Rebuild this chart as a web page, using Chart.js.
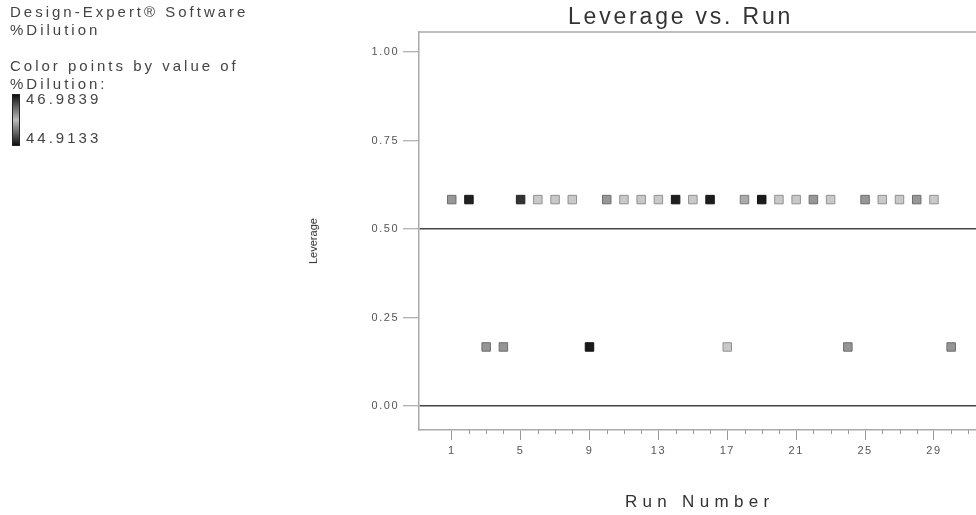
<!DOCTYPE html>
<html lang="en">
<head>
    <meta charset="UTF-8">
    <title>Leverage vs. Run</title>
    <script src="https://cdn.jsdelivr.net/npm/chart.js"></script>
    <style>
        body { margin: 0; background: #fff; font-family: "Liberation Sans", Arial, sans-serif; color: #444; }
        #wrap { position: relative; width: 976px; height: 515px; overflow: hidden; }
        canvas { position: absolute; left: 0; top: 0; }
        .txt { position: absolute; white-space: nowrap; }
        .side { font-size: 15px; letter-spacing: 3px; line-height: 18px; }
        #bar { position: absolute; left: 12px; top: 94px; width: 6px; height: 50px;
               border: 1px solid #222; background: linear-gradient(#111, #bbb 50%, #111); }
    </style>
</head>
<body>
<div id="wrap">
    <canvas id="levChart" width="984" height="515"></canvas>

    <!-- design info on the left -->
    <div class="txt side" style="left:10px; top:3px;">Design-Expert® Software<br>%Dilution</div>
    <div class="txt side" style="left:10px; top:57px;">Color points by value of<br>%Dilution:</div>
    <div id="bar"></div>
    <div class="txt side" style="left:26px; top:90px;">46.9839</div>
    <div class="txt side" style="left:26px; top:129px;">44.9133</div>

    <!-- titles -->
    <div class="txt" style="left:568px; top:3px; font-size:23px; letter-spacing:2.8px; color:#333;">Leverage vs. Run</div>
    <div class="txt" style="left:625px; top:492px; font-size:17px; letter-spacing:5.3px; color:#333;">Run Number</div>
    <div class="txt" style="left:290px; top:235px; font-size:11px; font-family:'Liberation Sans Narrow', Arial, sans-serif; color:#222; transform:rotate(-90deg); transform-origin:center;">Leverage</div>
</div>

<script>
    const runs = [1, 2, 3, 4, 5, 6, 7, 8, 9, 10, 11, 12, 13, 14, 15,
                  16, 17, 18, 19, 20, 21, 22, 23, 24, 25, 26, 27, 28, 29, 30];
    const leverage = [0.5833, 0.5833, 0.1667, 0.1667, 0.5833, 0.5833, 0.5833, 0.5833, 0.1667, 0.5833,
                      0.5833, 0.5833, 0.5833, 0.5833, 0.5833, 0.5833, 0.1667, 0.5833, 0.5833, 0.5833,
                      0.5833, 0.5833, 0.5833, 0.1667, 0.5833, 0.5833, 0.5833, 0.5833, 0.5833, 0.1667];
    // %Dilution per run (estimated from point shading)
    const dilution = [46.28, 44.95, 45.61, 45.61, 46.84, 46.00, 45.89, 46.00, 44.92, 46.28,
                      46.00, 45.89, 46.00, 46.95, 46.00, 44.93, 45.89, 46.17, 46.97, 46.00,
                      45.89, 46.28, 46.00, 45.61, 46.28, 46.00, 45.89, 46.28, 46.00, 45.61];
    const dilMin = 44.9133, dilMax = 46.9839;
    const yTicks = [0, 0.25, 0.5, 0.75, 1.0];
    const xTicks = [1, 2, 3, 4, 5, 6, 7, 8, 9, 10, 11, 12, 13, 14, 15, 16,
                    17, 18, 19, 20, 21, 22, 23, 24, 25, 26, 27, 28, 29, 30, 31];

    // dark at both ends of the range, light in the middle (grayscale print of the colour ramp)
    function shade(v, k) {
        const t = (v - dilMin) / (dilMax - dilMin);
        const g = Math.round((25 + 185 * (1 - Math.abs(2 * t - 1))) * k);
        return `rgb(${g},${g},${g})`;
    }
    const labeled = v => (v - 1) % 4 === 0;

    const framePlugin = {
        id: 'frame',
        beforeDraw(chart) {
            chart.ctx.letterSpacing = '1.5px';
        },
        afterDraw(chart) {
            const { ctx, chartArea: a, scales } = chart;
            ctx.save();
            ctx.strokeStyle = '#aaa';
            ctx.lineWidth = 1.5;
            ctx.beginPath();
            ctx.moveTo(a.left, a.top);
            ctx.lineTo(a.right, a.top);
            ctx.stroke();
            // minor run ticks
            ctx.strokeStyle = '#999';
            ctx.lineWidth = 1;
            xTicks.filter(v => !labeled(v)).forEach(v => {
                const x = Math.round(scales.x.getPixelForValue(v)) + 0.5;
                ctx.beginPath();
                ctx.moveTo(x, a.bottom);
                ctx.lineTo(x, a.bottom + 4);
                ctx.stroke();
            });
            ctx.restore();
        }
    };

    new Chart(document.getElementById('levChart'), {
        type: 'scatter',
        data: {
            datasets: [{
                data: runs.map((r, i) => ({ x: r, y: leverage[i] })),
                pointStyle: 'rect',
                pointRadius: 6,
                pointHoverRadius: 6,
                borderWidth: 1,
                pointBackgroundColor: dilution.map(v => shade(v, 1)),
                pointBorderColor: dilution.map(v => shade(v, 0.72))
            }]
        },
        options: {
            responsive: false,
            animation: false,
            layout: { padding: { top: 32, left: 0, right: 0, bottom: 0 } },
            plugins: { legend: { display: false }, tooltip: { enabled: false } },
            scales: {
                x: {
                    min: -0.9,
                    max: 31.5,
                    afterBuildTicks: s => { s.ticks = xTicks.map(v => ({ value: v })); },
                    afterFit: s => { s.height = 85; },
                    border: { color: '#aaa', width: 1.5 },
                    grid: {
                        drawOnChartArea: false,
                        tickLength: 10,
                        tickColor: c => labeled(c.tick.value) ? '#999' : 'rgba(0,0,0,0)'
                    },
                    ticks: {
                        autoSkip: false,
                        maxRotation: 0,
                        padding: 4,
                        color: '#555',
                        font: { family: 'Liberation Sans', size: 11 },
                        callback: v => labeled(v) ? String(v) : ''
                    }
                },
                y: {
                    min: -0.068,
                    max: 1.057,
                    afterBuildTicks: s => { s.ticks = yTicks.map(v => ({ value: v })); },
                    afterFit: s => { s.width = 419; },
                    border: { color: '#aaa', width: 1.5 },
                    grid: {
                        color: c => (c.tick && (c.tick.value === 0 || c.tick.value === 0.5)) ? '#444' : 'rgba(0,0,0,0)',
                        lineWidth: 1.5,
                        tickLength: 16,
                        tickColor: '#999',
                        tickWidth: 1
                    },
                    ticks: {
                        padding: 4,
                        color: '#555',
                        font: { family: 'Liberation Sans', size: 11 },
                        callback: v => v.toFixed(2)
                    }
                }
            }
        },
        plugins: [framePlugin]
    });
</script>
</body>
</html>
